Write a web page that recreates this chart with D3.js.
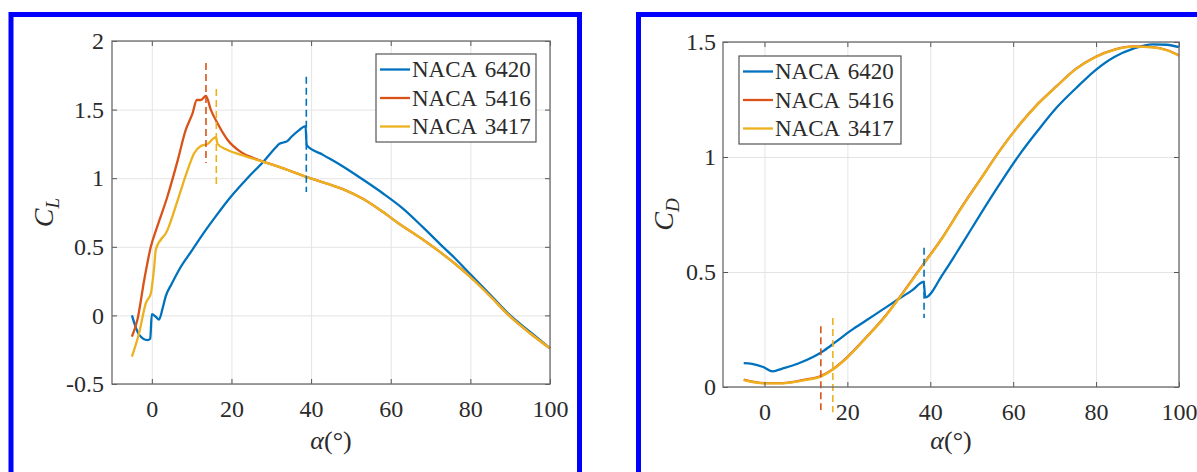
<!DOCTYPE html>
<html lang="en">
<head>
<meta charset="utf-8" />
<title>CL / CD vs alpha</title>
<script src="https://d3js.org/d3.v7.min.js"></script>
<style>
  body { margin: 0; background: #fff; }
  svg { display: block; }
</style>
</head>
<body>
<svg width="1197" height="472"></svg>
<script>
// ---- data ----
const names = ["NACA 6420", "NACA 5416", "NACA 3417"];
const colors = ["#0072BD", "#D95319", "#EDB120"];
const xTicks = [0, 20, 40, 60, 80, 100];
const clTicks = [-0.5, 0, 0.5, 1, 1.5, 2];
const cdTicks = [0, 0.5, 1, 1.5];

// lift coefficient, [alpha, CL]
const cl6420 = [[-5, 0.0], [-3.2, -0.14], [-1.1, -0.18], [-0.4, -0.17], [0, 0.01], [1, -0.01], [1.8, -0.03],
  [2.7, 0.05], [3.5, 0.14], [5, 0.23], [7, 0.34], [10, 0.47], [13, 0.6], [16, 0.72], [20, 0.87], [24, 1.0],
  [28, 1.12], [31, 1.22], [32, 1.25], [33, 1.26], [34, 1.27], [35, 1.3], [37, 1.35], [38.6, 1.38], [38.9, 1.24],
  [43, 1.17], [48, 1.085], [53, 0.99], [58, 0.89], [63, 0.78], [68, 0.645], [72.4, 0.52], [76, 0.42],
  [80, 0.3], [85, 0.15], [90, 0.0], [95, -0.12], [100, -0.24]];
const cl5416 = [[-5, -0.155], [-3.6, -0.03], [-1.9, 0.26], [-0.25, 0.5], [1.4, 0.65], [3.9, 0.865], [6.5, 1.13],
  [8.5, 1.35], [10.2, 1.47], [11.3, 1.57], [12.3, 1.57], [13.6, 1.6], [14.8, 1.5], [16.5, 1.4], [19, 1.28],
  [22.4, 1.19], [25.7, 1.145], [29.1, 1.11], [33.2, 1.07], [38.8, 1.01], [43, 0.97], [48.4, 0.915], [53, 0.85],
  [58, 0.755], [62, 0.67], [67.7, 0.56], [72, 0.47], [76, 0.38], [80, 0.28], [85, 0.14], [89.7, 0.0],
  [95, -0.13], [100, -0.24]];
const cl3417 = [[-5, -0.3], [-3.2, -0.13], [-1.5, 0.09], [-0.25, 0.16], [0.6, 0.355], [1, 0.48], [3.9, 0.62],
  [6.5, 0.84], [9, 1.06], [10.6, 1.18], [12.3, 1.235], [14, 1.25], [16.1, 1.3], [16.5, 1.25], [19, 1.205],
  [22.4, 1.17], [25.7, 1.14], [29.1, 1.11], [33.2, 1.07], [38.8, 1.01], [43, 0.97], [48.4, 0.915], [53, 0.85],
  [58, 0.755], [62, 0.67], [67.7, 0.56], [72, 0.47], [76, 0.38], [80, 0.28], [85, 0.14], [89.7, 0.0],
  [95, -0.13], [100, -0.24]];

// drag coefficient, [alpha, CD]
const cd6420 = [[-5, 0.104], [-3, 0.101], [-0.3, 0.087], [2, 0.068], [4.3, 0.08], [8, 0.101], [11.7, 0.13],
  [14.4, 0.159], [17.2, 0.196], [20.9, 0.246], [24.6, 0.29], [28.2, 0.333], [31.9, 0.377], [35.6, 0.42],
  [38.4, 0.457], [38.8, 0.39], [43, 0.49], [47.6, 0.62], [52.2, 0.754], [56.8, 0.884], [61.4, 1.007],
  [66, 1.116], [70.6, 1.217], [75.2, 1.3], [79.8, 1.377], [84.4, 1.435], [89, 1.471], [93.6, 1.49],
  [97, 1.488], [100, 1.478]];
const cd5416 = [[-5, 0.032], [0, 0.017], [4.3, 0.017], [9.8, 0.032], [13.6, 0.048], [16.7, 0.08], [20, 0.13],
  [24.6, 0.217], [29.2, 0.31], [33.8, 0.42], [38.4, 0.536], [43, 0.652], [47.6, 0.783], [52.2, 0.906],
  [56.8, 1.029], [61.4, 1.138], [66, 1.232], [70.6, 1.31], [75.2, 1.384], [79.8, 1.435], [84.4, 1.467],
  [89, 1.481], [93.6, 1.478], [97.2, 1.464], [100, 1.442]];
const cd3417 = [[-5, 0.03], [0, 0.016], [4.3, 0.016], [9.8, 0.03], [13.6, 0.045], [16.7, 0.078], [20, 0.128],
  [24.6, 0.215], [29.2, 0.308], [33.8, 0.418], [38.4, 0.534], [43, 0.65], [47.6, 0.781], [52.2, 0.905],
  [56.8, 1.028], [61.4, 1.137], [66, 1.231], [70.6, 1.309], [75.2, 1.383], [79.8, 1.434], [84.4, 1.466],
  [89, 1.48], [93.6, 1.477], [97.2, 1.463], [100, 1.44]];

// stall angles (dashed markers) and their vertical extent
const clStallAlpha = [38.8, 13.6, 16.2];
const clStallSpan = [[0.9, 1.74], [1.11, 1.84], [0.93, 1.65]];
const cdStallAlpha = [38.5, 13.6, 16.5];
const cdStallSpan = [[0.3, 0.605], [-0.1, 0.264], [-0.11, 0.3]];

// ---- drawing ----
const FONT = "'Liberation Serif', 'DejaVu Serif', 'Times New Roman', serif";
const svg = d3.select("svg");

// blue frames round each figure
svg.append("rect").attr("x", 11).attr("y", 14.5).attr("width", 568.5).attr("height", 470)
  .attr("fill", "none").attr("stroke", "#0000ff").attr("stroke-width", 5);
svg.append("rect").attr("x", 638.5).attr("y", 14.5).attr("width", 600).attr("height", 470)
  .attr("fill", "none").attr("stroke", "#0000ff").attr("stroke-width", 5);

function panel(o) {
  const x = d3.scaleLinear().domain([-10, 100]).range([o.x0, o.x1]);
  const y = d3.scaleLinear().domain(o.yDomain).range([o.y1, o.y0]);
  const g = svg.append("g");
  const w = o.x1 - o.x0, h = o.y1 - o.y0;
  const fmt = d => String(d);

  // grid
  g.append("g").attr("transform", `translate(0,${o.y1})`)
    .call(d3.axisBottom(x).tickValues(xTicks).tickSize(-h).tickFormat(""))
    .call(a => { a.select(".domain").remove(); a.selectAll("line").attr("stroke", "#e4e4e4"); });
  g.append("g").attr("transform", `translate(${o.x0},0)`)
    .call(d3.axisLeft(y).tickValues(o.yTicks).tickSize(-w).tickFormat(""))
    .call(a => { a.select(".domain").remove(); a.selectAll("line").attr("stroke", "#e4e4e4"); });

  // curves
  const line = d3.line().curve(d3.curveMonotoneX).x(d => x(d[0])).y(d => y(d[1]));
  o.series.forEach((s, i) => {
    g.append("path").datum(s).attr("d", line).attr("fill", "none")
      .attr("stroke", colors[i]).attr("stroke-width", 2.3).attr("stroke-linejoin", "round");
  });

  // stall markers
  o.stallAlpha.forEach((a, i) => {
    g.append("line").attr("x1", x(a)).attr("x2", x(a))
      .attr("y1", y(o.stallSpan[i][1])).attr("y2", y(o.stallSpan[i][0]))
      .attr("stroke", colors[i]).attr("stroke-width", 1.6).attr("stroke-dasharray", "7,4");
  });

  // axes with inward ticks
  const style = a => {
    a.attr("font-family", FONT);
    a.select(".domain").remove();
    a.selectAll("line").attr("stroke", "#555");
    a.selectAll("text").style("font-family", FONT).style("font-size", "24px").attr("fill", "#2b2b2b");
  };
  g.append("g").attr("transform", `translate(0,${o.y1})`)
    .call(d3.axisBottom(x).tickValues(xTicks).tickSizeInner(-5).tickSizeOuter(0).tickPadding(16).tickFormat(fmt))
    .call(style);
  g.append("g").attr("transform", `translate(0,${o.y0})`)
    .call(d3.axisTop(x).tickValues(xTicks).tickSizeInner(-5).tickSizeOuter(0).tickFormat(""))
    .call(style);
  g.append("g").attr("transform", `translate(${o.x0},0)`)
    .call(d3.axisLeft(y).tickValues(o.yTicks).tickSizeInner(-5).tickSizeOuter(0).tickPadding(o.yPad).tickFormat(fmt))
    .call(style);
  g.append("g").attr("transform", `translate(${o.x1},0)`)
    .call(d3.axisRight(y).tickValues(o.yTicks).tickSizeInner(-5).tickSizeOuter(0).tickFormat(""))
    .call(style);

  g.append("rect").attr("x", o.x0).attr("y", o.y0).attr("width", w).attr("height", h)
    .attr("fill", "none").attr("stroke", "#6a6a6a").attr("stroke-width", 1.3);

  // legend
  const lg = g.append("g").attr("transform", `translate(${o.legend[0]},${o.legend[1]})`);
  lg.append("rect").attr("width", o.legend[2]).attr("height", 88)
    .attr("fill", "#fff").attr("stroke", "#555").attr("stroke-width", 1.2);
  names.forEach((n, i) => {
    const cy = 15.5 + i * 28.5;
    lg.append("line").attr("x1", 4).attr("x2", 34).attr("y1", cy).attr("y2", cy)
      .attr("stroke", colors[i]).attr("stroke-width", 2.3);
    lg.append("text").attr("x", 36).attr("y", cy).attr("dy", "0.34em").attr("fill", "#2b2b2b")
      .style("font-family", FONT).style("font-size", "23px").style("word-spacing", "3px").text(n);
  });

  // axis titles
  const xt = g.append("text").attr("x", (o.x0 + o.x1) / 2).attr("y", 449).attr("fill", "#2b2b2b")
    .attr("text-anchor", "middle").style("font-family", FONT).style("font-size", "26px");
  xt.append("tspan").style("font-style", "italic").text("α");
  xt.append("tspan").text("(°)");

  const yt = g.append("text").attr("transform", `translate(${o.yTitleX},${(o.y0 + o.y1) / 2}) rotate(-90)`)
    .attr("text-anchor", "middle").attr("fill", "#2b2b2b")
    .style("font-family", FONT).style("font-size", "28px").style("font-style", "italic");
  yt.append("tspan").text("C");
  yt.append("tspan").style("font-size", "19px").attr("dy", 6).text(o.sub);
}

panel({
  x0: 112, x1: 550, y0: 41, y1: 384, yDomain: [-0.5, 2], yTicks: clTicks, yPad: 8,
  series: [cl6420, cl5416, cl3417], stallAlpha: clStallAlpha, stallSpan: clStallSpan,
  legend: [376, 54, 160], yTitleX: 53, sub: "L"
});
panel({
  x0: 723, x1: 1179, y0: 42, y1: 387, yDomain: [0, 1.5], yTicks: cdTicks, yPad: 7,
  series: [cd6420, cd5416, cd3417], stallAlpha: cdStallAlpha, stallSpan: cdStallSpan,
  legend: [739, 56, 162], yTitleX: 673, sub: "D"
});
</script>
</body>
</html>
